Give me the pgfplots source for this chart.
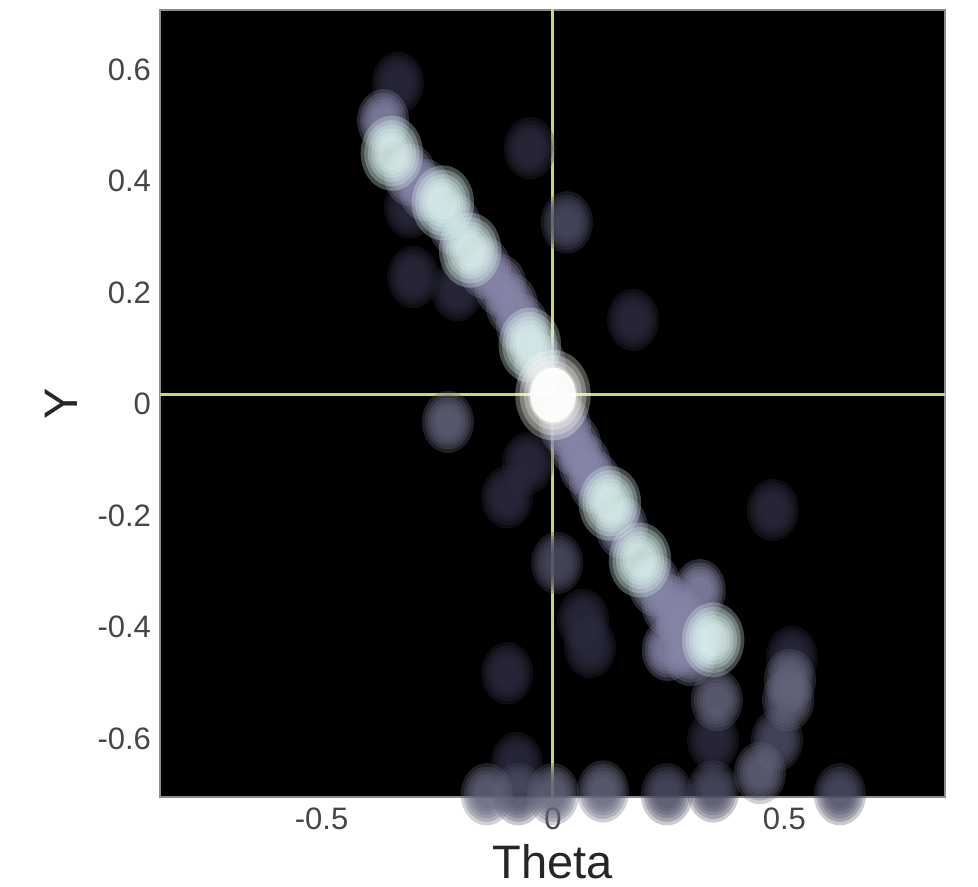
\documentclass[border=0pt]{standalone}
\usepackage{pgfplots}
\pgfplotsset{compat=1.18}
\usepackage{pgfplotstable}
\usepackage{fontspec}
\setmainfont{Liberation Sans}
\usetikzlibrary{calc}

\definecolor{brightc}{RGB}{222,246,242}
\definecolor{medc}{RGB}{135,135,170}
\definecolor{dimtwo}{RGB}{76,76,100}
\definecolor{dimc}{RGB}{44,44,64}
\definecolor{greyc}{RGB}{100,100,124}
\definecolor{centc}{RGB}{255,255,248}
\definecolor{yel}{RGB}{210,210,115}
\definecolor{tickc}{RGB}{70,70,70}

\pgfplotstableread{
x y
-0.335 0.576
-0.050 0.459
-0.302 0.228
-0.207 0.204
-0.309 0.353
0.173 0.151
-0.054 -0.106
-0.099 -0.167
0.475 -0.190
0.065 -0.387
0.080 -0.436
-0.099 -0.483
0.516 -0.454
0.346 -0.603
-0.078 -0.644
}\dimtab

\pgfplotstableread{
x y
0.030 0.326
0.009 -0.285
0.246 -0.700
0.346 -0.695
0.620 -0.700
0.484 -0.603
-0.075 -0.700
}\dimtwotab

\pgfplotstableread{
x y
-0.227 -0.032
-0.143 -0.700
0.000 -0.700
0.108 -0.695
0.447 -0.662
0.508 -0.531
0.512 -0.495
0.354 -0.531
}\greytab

\pgfplotstableread{
x y
-0.367 0.509
-0.309 0.411
-0.276 0.384
-0.212 0.321
-0.147 0.244
-0.114 0.213
-0.089 0.178
-0.067 0.142
-0.028 0.070
0.026 -0.038
0.048 -0.074
0.069 -0.109
0.091 -0.140
0.149 -0.222
0.220 -0.325
0.248 -0.361
0.279 -0.391
0.311 -0.418
0.248 -0.441
0.296 -0.450
0.317 -0.334
}\medtab

\pgfplotstableread{
x y
-0.348 0.450
-0.238 0.361
-0.179 0.276
-0.050 0.106
0.123 -0.178
0.188 -0.280
0.346 -0.423
}\brighttab

\pgfplotstableread{
x y
0.000 0.016
}\centtab

\pgfplotstableread{
x y
0 -1
0 1
}\vline
\pgfplotstableread{
x y
-1 0.018
1 0.018
}\hline

\pgfplotsset{blob/.style 2 args={only marks, draw=none, mark=*, mark size={#2},
  mark options={draw opacity=0, line width=0pt, fill=#1, fill opacity=0.3, yscale=1.2}}}
\newcommand\blobs[3]{%
  \addplot[blob={#2}{#3*1.30pt}] table {#1};
  \addplot[blob={#2}{#3*1.15pt}] table {#1};
  \addplot[blob={#2}{#3*1.00pt}] table {#1};
  \addplot[blob={#2}{#3*0.86pt}] table {#1};
  \addplot[blob={#2}{#3*0.72pt}] table {#1};
  \addplot[blob={#2}{#3*0.58pt}] table {#1};
}

\begin{document}
\begin{tikzpicture}
\begin{axis}[
  scale only axis,
  width=392.5pt, height=393.5pt,
  xmin=-0.849, xmax=0.847,
  ymin=-0.705, ymax=0.707,
  axis background/.style={fill=black},
  axis line style={draw=black!45, line width=0.6pt},
  major tick length=0pt,
  xtick={-0.5,0,0.5},
  xticklabels={-0.5,0,0.5},
  ytick={-0.6,-0.4,-0.2,0,0.2,0.4,0.6},
  yticklabels={-0.6,-0.4,-0.2,0,0.2,0.4,0.6},
  tick label style={font=\fontsize{15.5}{17}\selectfont, color=tickc},
  yticklabel style={xshift=-1pt},
  xticklabel style={yshift=-2pt},
  xlabel={Theta},
  ylabel={Y},
  xlabel style={at={(axis description cs:0.5,-0.104)}, anchor=base, font=\fontsize{23.5}{26}\selectfont, color=black!85},
  ylabel style={at={(axis description cs:-0.126,0.5)}, anchor=center, font=\fontsize{23.5}{26}\selectfont, color=black!85},
]
\blobs{\dimtab}{dimc}{10}
\blobs{\dimtwotab}{dimtwo}{10}
\blobs{\greytab}{greyc}{10}
\blobs{\medtab}{medc}{10}
\blobs{\brighttab}{brightc}{12}
\blobs{\centtab}{centc}{14.5}
\addplot[only marks, mark=*, mark size=11.5pt, mark options={draw opacity=0, line width=0pt, fill=white, fill opacity=0.9, yscale=1.2}] table {\centtab};
\addplot[yel, line width=1.5pt] table {\vline};
\addplot[yel, line width=1.5pt] table {\hline};
\end{axis}
\pgfresetboundingbox
\path[use as bounding box] ($(current axis.south west)+(-80pt,-44.5pt)$) rectangle ($(current axis.north east)+(16.5pt,5pt)$);
\end{tikzpicture}
\end{document}
